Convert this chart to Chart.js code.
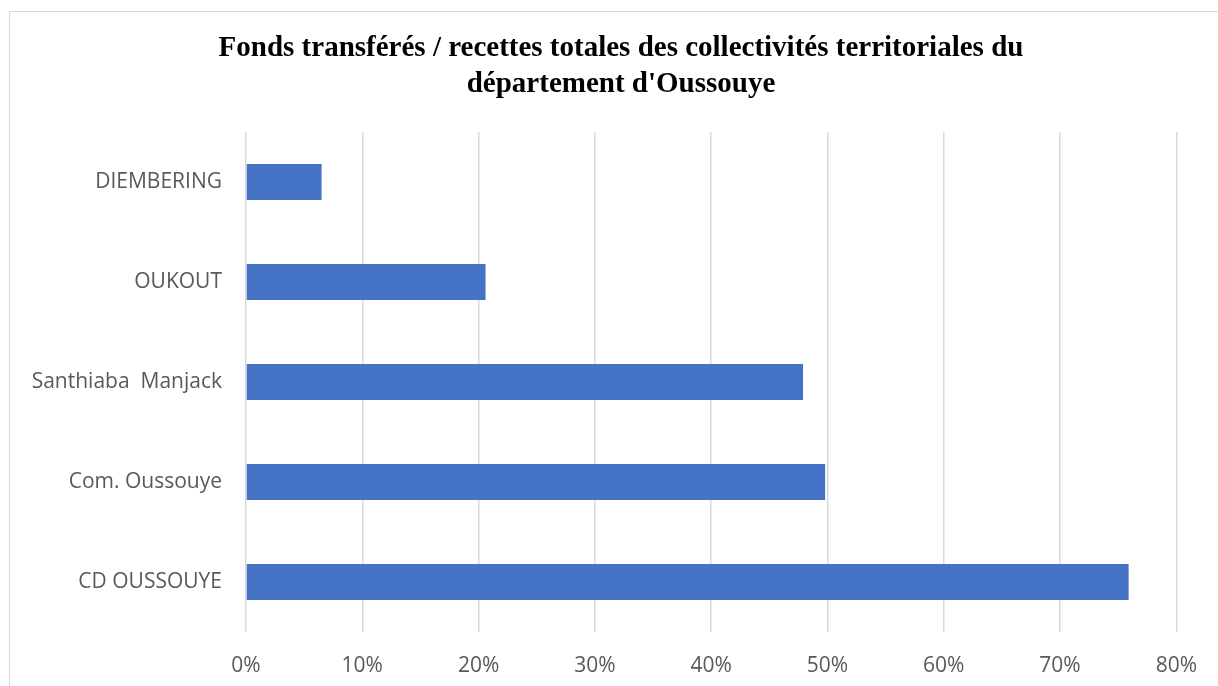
<!DOCTYPE html>
<html>
<head>
<meta charset="utf-8">
<script src="https://cdn.jsdelivr.net/npm/chart.js@4"></script>
<style>
  html, body { margin: 0; padding: 0; background: #fff; overflow: hidden; }
  #frame { position: absolute; left: 9px; top: 11px; width: 1240px; height: 700px; border: 1.5px solid #d9d9d9; }
  #wrap { position: absolute; left: 0; top: 0; width: 1218px; height: 686px; }
</style>
</head>
<body>
<div id="frame"></div>
<div id="wrap"><canvas id="chart"></canvas></div>
<script>
const TITLE = ["Fonds transférés / recettes totales des collectivités territoriales du", "département d'Oussouye"];
const categories = ["DIEMBERING", "OUKOUT", "Santhiaba  Manjack", "Com. Oussouye", "CD OUSSOUYE"];
const shares = [6.5, 20.6, 47.9, 49.8, 75.9];
const xTicks = [0, 10, 20, 30, 40, 50, 60, 70, 80];

const grey = "#595959";

// the title sits a bit right of the canvas centre in the original
const titleShift = {
  id: "titleShift",
  afterLayout(chart) {
    if (chart.titleBlock) {
      chart.titleBlock.left += 19;
      chart.titleBlock.right += 19;
    }
  },
};

new Chart(document.getElementById("chart"), {
  type: "bar",
  data: {
    labels: categories,
    datasets: [{
      data: shares,
      backgroundColor: "#4472C4",
      borderWidth: 0,
      categoryPercentage: 1,
      barPercentage: 0.36,
    }],
  },
  plugins: [titleShift],
  options: {
    indexAxis: "y",
    responsive: true,
    maintainAspectRatio: false,
    animation: false,
    layout: { padding: { left: 24, right: 38, top: 0, bottom: 0 } },
    plugins: {
      legend: { display: false },
      tooltip: { enabled: false },
      title: {
        display: true,
        text: TITLE,
        color: "#000",
        font: { family: "'Liberation Serif', 'Times New Roman', serif", size: 29, weight: "bold", lineHeight: 1.25 },
        padding: { top: 30, bottom: 29.5 },
      },
    },
    scales: {
      x: {
        min: 0,
        max: 80,
        afterBuildTicks: (s) => { s.ticks = xTicks.map((v) => ({ value: v })); },
        afterFit: (s) => { s.height = 54; },
        border: { display: false },
        grid: { color: "#d9d9d9", lineWidth: 1.5, drawTicks: false },
        ticks: {
          color: grey,
          padding: 21,
          font: { family: "'Open Sans', sans-serif", size: 21 },
          callback: (v) => v + "%",
        },
      },
      y: {
        afterFit: (s) => { s.width = 222; },
        border: { display: false },
        grid: { display: false, drawTicks: false },
        ticks: {
          color: grey,
          padding: 24,
          font: { family: "'Open Sans', sans-serif", size: 21 },
        },
      },
    },
  },
});
</script>
</body>
</html>
